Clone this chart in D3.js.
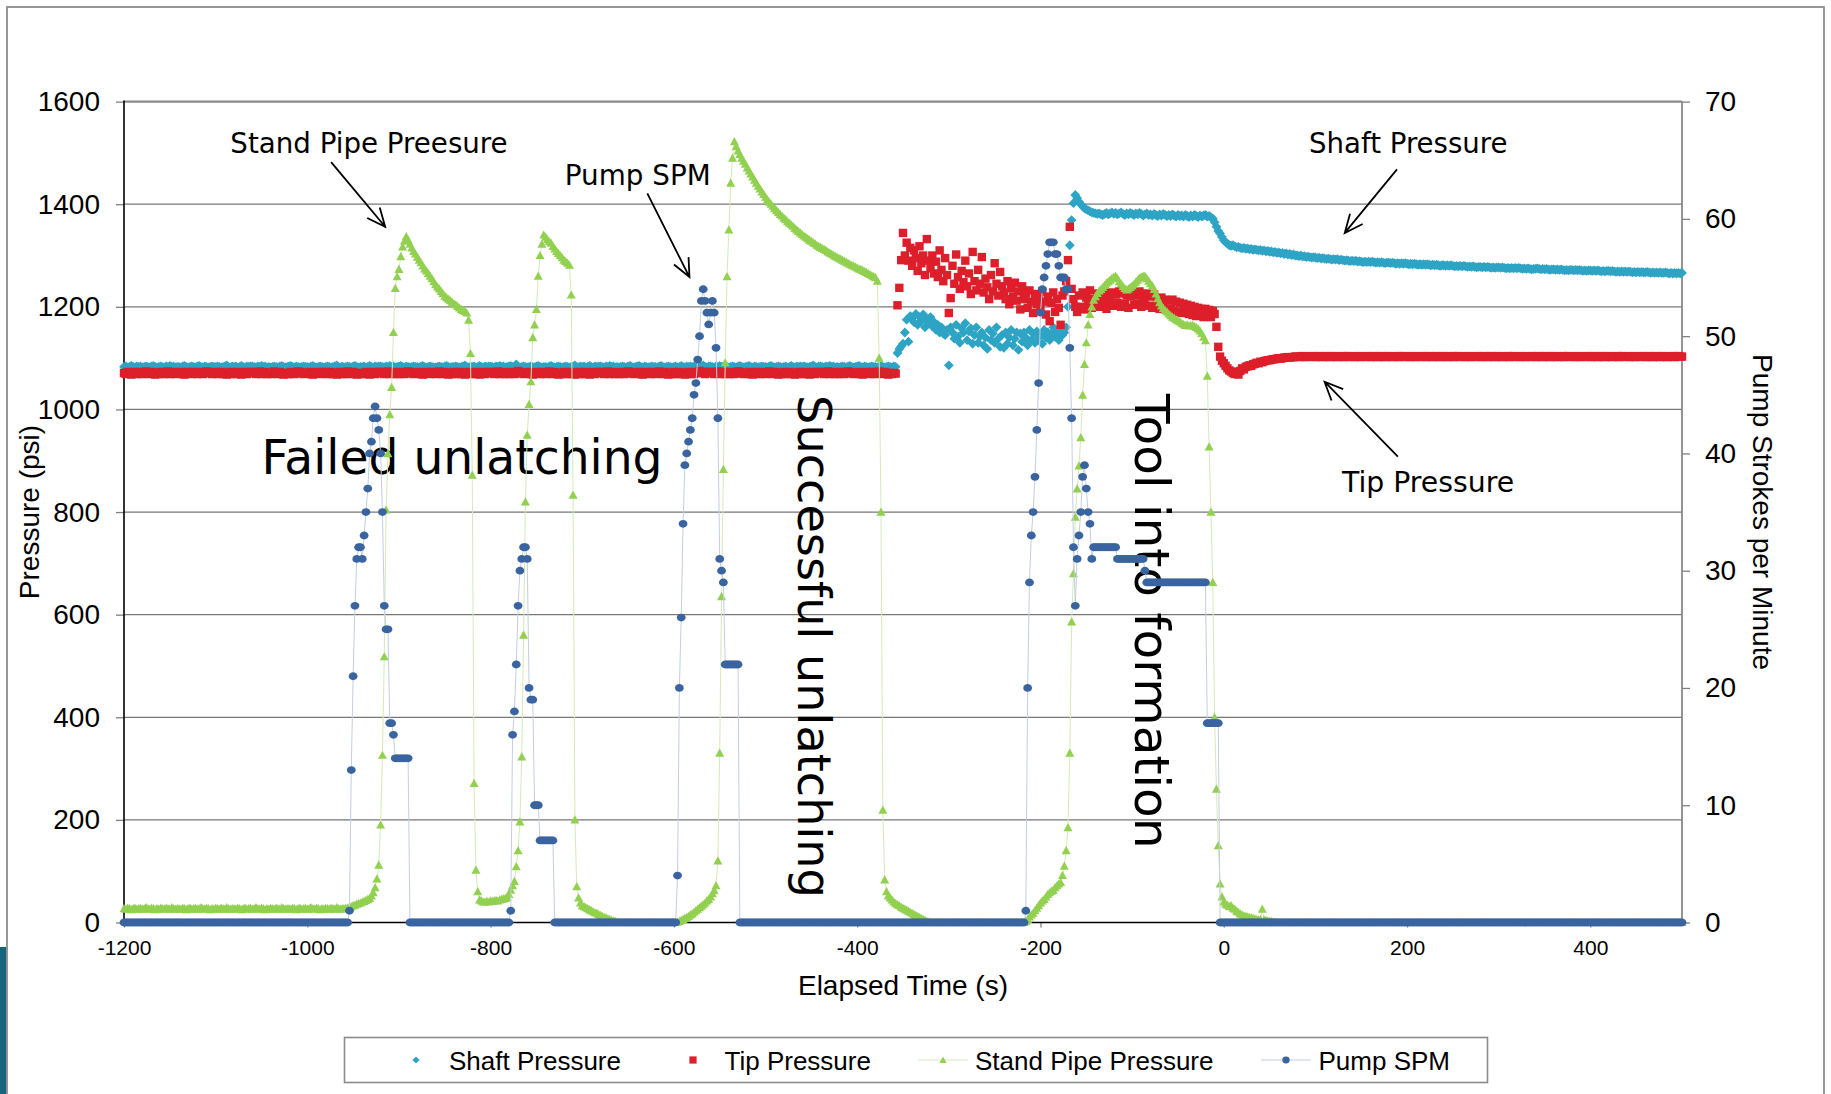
<!DOCTYPE html>
<html>
<head>
<meta charset="utf-8">
<script src="https://cdn.jsdelivr.net/npm/d3@7"></script>
<style>
    body { margin: 0; background: #fff; }
    svg { display: block; }
</style>
</head>
<body>
<div id="chart"></div>
<script>
// logger samples every 2 s starting at -1200 s, ten samples (20 s) per row
const timeStart = -1200
const timeStep = 2

const shaftPressure = [
    1083, 1084, 1082, 1083, 1085, 1083, 1082, 1084, 1083, 1084, // -1200
    1082, 1083, 1084, 1083, 1082, 1084, 1085, 1083, 1082, 1083, // -1180
    1084, 1083, 1082, 1084, 1083, 1085, 1083, 1084, 1082, 1083, // -1160
    1083, 1082, 1084, 1085, 1083, 1082, 1083, 1084, 1083, 1082, // -1140
    1084, 1085, 1083, 1082, 1084, 1083, 1082, 1083, 1084, 1083, // -1120
    1083, 1084, 1083, 1082, 1083, 1084, 1086, 1083, 1082, 1084, // -1100
    1083, 1084, 1082, 1083, 1085, 1083, 1082, 1084, 1083, 1084, // -1080
    1084, 1083, 1082, 1084, 1083, 1085, 1083, 1084, 1082, 1083, // -1060
    1082, 1083, 1084, 1083, 1082, 1084, 1085, 1083, 1082, 1083, // -1040
    1084, 1085, 1083, 1082, 1084, 1083, 1082, 1083, 1084, 1083, // -1020
    1083, 1082, 1084, 1085, 1083, 1082, 1083, 1084, 1083, 1082, // -1000
    1083, 1084, 1083, 1082, 1083, 1084, 1086, 1083, 1082, 1084, // -980
    1082, 1083, 1084, 1083, 1082, 1084, 1085, 1083, 1082, 1083, // -960
    1083, 1084, 1082, 1083, 1085, 1083, 1082, 1084, 1083, 1084, // -940
    1084, 1083, 1082, 1084, 1083, 1085, 1083, 1084, 1082, 1083, // -920
    1084, 1085, 1083, 1082, 1084, 1083, 1082, 1083, 1084, 1083, // -900
    1083, 1082, 1084, 1085, 1083, 1082, 1083, 1084, 1083, 1082, // -880
    1082, 1083, 1084, 1083, 1082, 1084, 1085, 1083, 1082, 1083, // -860
    1083, 1084, 1083, 1082, 1083, 1084, 1086, 1083, 1082, 1084, // -840
    1083, 1084, 1082, 1083, 1085, 1083, 1082, 1084, 1083, 1084, // -820
    1084, 1083, 1082, 1084, 1083, 1085, 1083, 1084, 1082, 1083, // -800
    1084, 1085, 1083, 1082, 1088, 1083, 1082, 1083, 1084, 1083, // -780
    1082, 1083, 1084, 1083, 1082, 1084, 1085, 1083, 1082, 1083, // -760
    1083, 1082, 1084, 1085, 1083, 1082, 1083, 1084, 1083, 1082, // -740
    1083, 1084, 1083, 1082, 1083, 1084, 1086, 1083, 1082, 1084, // -720
    1083, 1084, 1082, 1083, 1085, 1083, 1082, 1084, 1083, 1084, // -700
    1084, 1083, 1082, 1084, 1083, 1085, 1083, 1084, 1082, 1083, // -680
    1082, 1083, 1084, 1083, 1082, 1084, 1085, 1083, 1082, 1083, // -660
    1084, 1085, 1083, 1082, 1084, 1083, 1082, 1083, 1084, 1083, // -640
    1083, 1082, 1084, 1085, 1083, 1082, 1083, 1084, 1083, 1082, // -620
    1083, 1084, 1082, 1083, 1085, 1083, 1082, 1084, 1083, 1084, // -600
    1083, 1084, 1083, 1082, 1087, 1084, 1086, 1083, 1082, 1084, // -580
    1084, 1083, 1082, 1084, 1083, 1085, 1083, 1084, 1082, 1083, // -560
    1082, 1083, 1084, 1083, 1082, 1084, 1085, 1083, 1082, 1083, // -540
    1084, 1085, 1083, 1082, 1084, 1083, 1082, 1083, 1084, 1083, // -520
    1083, 1082, 1084, 1085, 1083, 1082, 1083, 1084, 1083, 1082, // -500
    1083, 1084, 1082, 1083, 1085, 1083, 1082, 1084, 1083, 1084, // -480
    1083, 1084, 1083, 1082, 1083, 1084, 1086, 1083, 1082, 1084, // -460
    1084, 1083, 1082, 1084, 1083, 1085, 1083, 1084, 1082, 1083, // -440
    1082, 1083, 1084, 1083, 1082, 1084, 1085, 1083, 1082, 1083, // -420
    1084, 1085, 1083, 1082, 1084, 1083, 1082, 1083, 1084, 1083, // -400
    1083, 1082, 1084, 1085, 1083, 1082, 1083, 1084, 1083, 1082, // -380
    1084, 1083, 1110, 1118, 1123, 1128, 1150, 1175, 1132, 1182, // -360
    1178, 1170, 1186, 1165, 1180, 1172, 1185, 1160, 1175, 1168, // -340
    1180, 1162, 1170, 1155, 1165, 1150, 1160, 1148, 1145, 1155, // -320
    1086, 1160, 1150, 1138, 1165, 1142, 1130, 1158, 1150, 1168, // -300
    1135, 1152, 1158, 1128, 1145, 1160, 1130, 1142, 1150, 1125, // -280
    1140, 1118, 1155, 1135, 1148, 1130, 1160, 1138, 1122, 1145, // -260
    1120, 1150, 1128, 1140, 1155, 1125, 1138, 1150, 1116, 1148, // -240
    1132, 1150, 1140, 1125, 1155, 1135, 1148, 1130, 1152, 1140, // -220
    1145, 1128, 1155, 1140, 1150, 1135, 1148, 1160, 1142, 1150, // -200
    1135, 1155, 1145, 1150, 1160, 1200, 1320, 1369, 1402, 1418, // -180
    1412, 1405, 1400, 1396, 1392, 1390, 1388, 1386, 1384, 1383, // -160
    1382, 1381, 1382, 1380, 1379, 1381, 1383, 1380, 1382, 1384, // -140
    1381, 1383, 1380, 1382, 1384, 1381, 1379, 1382, 1380, 1383, // -120
    1381, 1379, 1382, 1380, 1383, 1381, 1378, 1380, 1382, 1379, // -100
    1380, 1378, 1381, 1379, 1377, 1380, 1378, 1381, 1379, 1377, // -80
    1379, 1377, 1380, 1378, 1376, 1379, 1377, 1378, 1376, 1379, // -60
    1377, 1375, 1378, 1376, 1379, 1377, 1375, 1378, 1376, 1378, // -40
    1379, 1376, 1377, 1375, 1372, 1365, 1356, 1348, 1343, 1336, // -20
    1330, 1326, 1323, 1320, 1319, 1320, 1318, 1316, 1317, 1315, // 0
    1314, 1315, 1313, 1314, 1312, 1313, 1311, 1312, 1311, 1310, // 20
    1311, 1309, 1310, 1308, 1309, 1307, 1308, 1306, 1307, 1305, // 40
    1306, 1304, 1305, 1303, 1304, 1302, 1303, 1301, 1302, 1300, // 60
    1300, 1299, 1300, 1298, 1299, 1297, 1298, 1297, 1296, 1297, // 80
    1296, 1295, 1296, 1294, 1295, 1294, 1293, 1294, 1293, 1292, // 100
    1293, 1292, 1293, 1291, 1292, 1291, 1290, 1291, 1290, 1289, // 120
    1290, 1289, 1290, 1288, 1289, 1288, 1287, 1288, 1287, 1288, // 140
    1287, 1288, 1287, 1286, 1287, 1286, 1287, 1286, 1285, 1286, // 160
    1286, 1285, 1286, 1285, 1284, 1285, 1284, 1285, 1284, 1285, // 180
    1284, 1283, 1284, 1283, 1284, 1283, 1282, 1283, 1282, 1283, // 200
    1282, 1283, 1282, 1281, 1282, 1281, 1282, 1281, 1280, 1281, // 220
    1281, 1280, 1281, 1280, 1281, 1280, 1279, 1280, 1279, 1280, // 240
    1279, 1280, 1279, 1278, 1279, 1278, 1279, 1278, 1277, 1278, // 260
    1278, 1277, 1278, 1277, 1278, 1277, 1276, 1277, 1276, 1277, // 280
    1277, 1276, 1277, 1276, 1275, 1276, 1275, 1276, 1275, 1276, // 300
    1275, 1276, 1275, 1274, 1275, 1274, 1275, 1274, 1273, 1274, // 320
    1274, 1275, 1274, 1273, 1274, 1273, 1274, 1273, 1272, 1273, // 340
    1273, 1272, 1273, 1272, 1273, 1272, 1271, 1272, 1271, 1272, // 360
    1272, 1271, 1272, 1271, 1272, 1271, 1270, 1271, 1270, 1271, // 380
    1271, 1270, 1271, 1270, 1271, 1270, 1269, 1270, 1269, 1270, // 400
    1270, 1269, 1270, 1269, 1268, 1269, 1268, 1269, 1268, 1269, // 420
    1268, 1269, 1268, 1267, 1268, 1267, 1268, 1267, 1268, 1267, // 440
    1267, 1268, 1267, 1266, 1267, 1266, 1267, 1266, 1267, 1266, // 460
    1266, 1267, 1266, 1265, 1266, 1265, 1266, 1265, 1266, 1265, // 480
    1266 // 500
]

const tipPressure = [
    1071, 1069, 1073, 1071, 1068, 1071, 1073, 1069, 1071, 1073, // -1200
    1069, 1071, 1074, 1071, 1069, 1073, 1071, 1068, 1071, 1069, // -1180
    1073, 1071, 1069, 1071, 1074, 1069, 1071, 1073, 1069, 1071, // -1160
    1071, 1073, 1069, 1068, 1071, 1073, 1071, 1069, 1073, 1071, // -1140
    1069, 1073, 1071, 1069, 1071, 1074, 1073, 1071, 1069, 1071, // -1120
    1073, 1069, 1071, 1073, 1069, 1071, 1068, 1071, 1073, 1069, // -1100
    1071, 1069, 1073, 1071, 1068, 1071, 1073, 1069, 1071, 1073, // -1080
    1073, 1071, 1069, 1071, 1074, 1069, 1071, 1073, 1069, 1071, // -1060
    1069, 1071, 1074, 1071, 1069, 1073, 1071, 1068, 1071, 1069, // -1040
    1069, 1073, 1071, 1069, 1071, 1074, 1073, 1071, 1069, 1071, // -1020
    1071, 1073, 1069, 1068, 1071, 1073, 1071, 1069, 1073, 1071, // -1000
    1073, 1069, 1071, 1073, 1069, 1071, 1068, 1071, 1073, 1069, // -980
    1069, 1071, 1074, 1071, 1069, 1073, 1071, 1068, 1071, 1069, // -960
    1071, 1069, 1073, 1071, 1068, 1071, 1073, 1069, 1071, 1073, // -940
    1073, 1071, 1069, 1071, 1074, 1069, 1071, 1073, 1069, 1071, // -920
    1069, 1073, 1071, 1069, 1071, 1074, 1073, 1071, 1069, 1071, // -900
    1071, 1073, 1069, 1068, 1071, 1073, 1071, 1069, 1073, 1071, // -880
    1069, 1071, 1074, 1071, 1069, 1073, 1071, 1068, 1071, 1069, // -860
    1073, 1069, 1071, 1073, 1069, 1071, 1068, 1071, 1073, 1069, // -840
    1071, 1069, 1073, 1071, 1068, 1071, 1073, 1069, 1071, 1073, // -820
    1073, 1071, 1069, 1071, 1074, 1069, 1071, 1073, 1069, 1071, // -800
    1069, 1073, 1071, 1069, 1071, 1075, 1073, 1071, 1069, 1071, // -780
    1071, 1073, 1069, 1068, 1071, 1073, 1071, 1069, 1073, 1071, // -760
    1069, 1071, 1074, 1071, 1069, 1073, 1071, 1068, 1071, 1069, // -740
    1073, 1069, 1071, 1073, 1069, 1071, 1068, 1071, 1073, 1069, // -720
    1071, 1069, 1073, 1071, 1068, 1071, 1073, 1069, 1071, 1073, // -700
    1073, 1071, 1069, 1071, 1074, 1069, 1071, 1073, 1069, 1071, // -680
    1069, 1073, 1071, 1069, 1071, 1074, 1073, 1071, 1069, 1071, // -660
    1071, 1073, 1069, 1068, 1071, 1073, 1071, 1069, 1073, 1071, // -640
    1069, 1071, 1074, 1071, 1069, 1073, 1071, 1068, 1071, 1069, // -620
    1073, 1069, 1071, 1073, 1069, 1071, 1068, 1071, 1073, 1069, // -600
    1071, 1069, 1073, 1071, 1075, 1071, 1073, 1069, 1071, 1073, // -580
    1073, 1071, 1069, 1071, 1074, 1069, 1071, 1073, 1069, 1071, // -560
    1069, 1073, 1071, 1069, 1071, 1074, 1073, 1071, 1069, 1071, // -540
    1071, 1073, 1069, 1068, 1071, 1073, 1071, 1069, 1073, 1071, // -520
    1069, 1071, 1074, 1071, 1069, 1073, 1071, 1068, 1071, 1069, // -500
    1073, 1069, 1071, 1073, 1069, 1071, 1068, 1071, 1073, 1069, // -480
    1071, 1069, 1073, 1071, 1068, 1071, 1073, 1069, 1071, 1073, // -460
    1073, 1071, 1069, 1071, 1074, 1069, 1071, 1073, 1069, 1071, // -440
    1069, 1073, 1071, 1069, 1071, 1074, 1073, 1071, 1069, 1071, // -420
    1071, 1073, 1069, 1068, 1071, 1073, 1071, 1069, 1073, 1071, // -400
    1069, 1071, 1074, 1071, 1069, 1073, 1071, 1068, 1071, 1069, // -380
    1071, 1070, 1203, 1237, 1291, 1344, 1300, 1325, 1290, 1315, // -360
    1280, 1310, 1295, 1270, 1318, 1285, 1300, 1262, 1332, 1290, // -340
    1275, 1300, 1265, 1288, 1258, 1310, 1272, 1250, 1295, 1262, // -320
    1188, 1217, 1280, 1245, 1302, 1258, 1235, 1270, 1248, 1290, // -300
    1240, 1265, 1225, 1307, 1250, 1232, 1272, 1245, 1297, 1228, // -280
    1255, 1238, 1215, 1262, 1230, 1285, 1245, 1222, 1268, 1240, // -260
    1228, 1215, 1250, 1205, 1236, 1220, 1247, 1212, 1230, 1195, // -240
    1240, 1215, 1226, 1198, 1232, 1210, 1188, 1225, 1205, 1218, // -220
    1195, 1230, 1210, 1185, 1220, 1172, 1208, 1228, 1190, 1215, // -200
    1198, 1165, 1222, 1230, 1250, 1291, 1356, 1235, 1215, 1200, // -180
    1190, 1222, 1200, 1228, 1195, 1218, 1203, 1232, 1198, 1215, // -160
    1205, 1226, 1200, 1220, 1208, 1230, 1196, 1222, 1210, 1228, // -140
    1202, 1224, 1208, 1230, 1200, 1226, 1206, 1222, 1198, 1220, // -120
    1228, 1204, 1222, 1206, 1230, 1200, 1218, 1204, 1226, 1202, // -100
    1220, 1198, 1224, 1202, 1216, 1196, 1218, 1200, 1214, 1194, // -80
    1212, 1196, 1214, 1192, 1210, 1190, 1208, 1188, 1206, 1190, // -60
    1204, 1186, 1202, 1184, 1200, 1182, 1198, 1184, 1196, 1180, // -40
    1196, 1182, 1194, 1180, 1192, 1186, 1161, 1122, 1103, 1095, // -20
    1090, 1085, 1080, 1076, 1074, 1071, 1069, 1073, 1068, 1075, // 0
    1080, 1078, 1083, 1084, 1086, 1085, 1088, 1089, 1091, 1090, // 20
    1093, 1092, 1094, 1095, 1096, 1096, 1097, 1098, 1098, 1099, // 40
    1100, 1099, 1100, 1101, 1101, 1102, 1101, 1102, 1102, 1103, // 60
    1103, 1102, 1103, 1104, 1103, 1102, 1103, 1103, 1104, 1103, // 80
    1102, 1103, 1104, 1103, 1102, 1103, 1104, 1103, 1102, 1103, // 100
    1104, 1103, 1102, 1103, 1103, 1104, 1102, 1103, 1104, 1103, // 120
    1103, 1102, 1103, 1104, 1103, 1102, 1103, 1103, 1104, 1103, // 140
    1102, 1103, 1104, 1103, 1102, 1103, 1104, 1103, 1102, 1103, // 160
    1104, 1103, 1102, 1103, 1103, 1104, 1102, 1103, 1104, 1103, // 180
    1103, 1102, 1103, 1104, 1103, 1102, 1103, 1103, 1104, 1103, // 200
    1102, 1103, 1104, 1103, 1102, 1103, 1104, 1103, 1102, 1103, // 220
    1104, 1103, 1102, 1103, 1103, 1104, 1102, 1103, 1104, 1103, // 240
    1103, 1102, 1103, 1104, 1103, 1102, 1103, 1103, 1104, 1103, // 260
    1102, 1103, 1104, 1103, 1102, 1103, 1104, 1103, 1102, 1103, // 280
    1104, 1103, 1102, 1103, 1103, 1104, 1102, 1103, 1104, 1103, // 300
    1103, 1102, 1103, 1104, 1103, 1102, 1103, 1103, 1104, 1103, // 320
    1102, 1103, 1104, 1103, 1102, 1103, 1104, 1103, 1102, 1103, // 340
    1104, 1103, 1102, 1103, 1103, 1104, 1102, 1103, 1104, 1103, // 360
    1103, 1102, 1103, 1104, 1103, 1102, 1103, 1103, 1104, 1103, // 380
    1102, 1103, 1104, 1103, 1102, 1103, 1104, 1103, 1102, 1103, // 400
    1104, 1103, 1102, 1103, 1103, 1104, 1102, 1103, 1104, 1103, // 420
    1103, 1102, 1103, 1104, 1103, 1102, 1103, 1103, 1104, 1103, // 440
    1102, 1103, 1104, 1103, 1102, 1103, 1104, 1103, 1102, 1103, // 460
    1104, 1103, 1102, 1103, 1103, 1104, 1102, 1103, 1104, 1103, // 480
    1103 // 500
]

const standPipePressure = [
    27, 26, 28, 27, 25, 27, 28, 26, 27, 28, // -1200
    26, 27, 29, 27, 26, 28, 27, 25, 27, 26, // -1180
    28, 27, 26, 28, 27, 26, 29, 27, 26, 27, // -1160
    27, 26, 28, 27, 25, 27, 28, 26, 27, 28, // -1140
    26, 27, 29, 27, 26, 28, 27, 25, 27, 26, // -1120
    28, 27, 26, 28, 27, 26, 29, 27, 26, 27, // -1100
    27, 26, 28, 27, 25, 27, 28, 26, 27, 28, // -1080
    26, 27, 29, 27, 26, 28, 27, 25, 27, 26, // -1060
    28, 27, 26, 28, 27, 26, 29, 27, 26, 27, // -1040
    27, 26, 28, 27, 25, 27, 28, 26, 27, 28, // -1020
    26, 27, 29, 27, 26, 28, 27, 25, 27, 26, // -1000
    28, 27, 26, 28, 27, 26, 29, 27, 26, 27, // -980
    27, 28, 28, 30, 31, 33, 34, 36, 37, 38, // -960
    40, 41, 43, 45, 47, 52, 58, 68, 85, 112, // -940
    190, 326, 518, 804, 914, 990, 1043, 1150, 1236, 1259, // -920
    1273, 1298, 1317, 1328, 1337, 1330, 1322, 1315, 1308, 1303, // -900
    1297, 1291, 1286, 1280, 1274, 1270, 1265, 1260, 1255, 1249, // -880
    1243, 1239, 1235, 1230, 1226, 1221, 1218, 1215, 1212, 1209, // -860
    1206, 1204, 1201, 1198, 1195, 1193, 1191, 1188, 1174, 1109, // -840
    872, 271, 102, 60, 44, 42, 40, 40, 41, 40, // -820
    42, 41, 42, 43, 42, 44, 45, 46, 47, 49, // -800
    55, 63, 72, 80, 109, 140, 196, 323, 560, 820, // -780
    950, 1010, 1054, 1140, 1165, 1195, 1260, 1300, 1322, 1340, // -760
    1336, 1331, 1327, 1324, 1318, 1313, 1308, 1304, 1300, 1296, // -740
    1291, 1288, 1285, 1281, 1223, 833, 200, 70, 48, 38, // -720
    33, 31, 29, 27, 25, 23, 21, 19, 18, 16, // -700
    14, 12, 10, 9, 7, 6, 4, 3, 2, 1, // -680
    0, 0, 0, 0, 0, 0, 0, 0, 0, 0, // -660
    0, 0, 0, 0, 0, 0, 0, 0, 0, 0, // -640
    0, 0, 0, 0, 0, 0, 0, 0, 0, 0, // -620
    0, 0, 1, 2, 4, 6, 8, 10, 12, 15, // -600
    17, 20, 23, 26, 29, 32, 35, 38, 42, 45, // -580
    50, 56, 62, 72, 120, 330, 635, 883, 1091, 1259, // -560
    1350, 1441, 1490, 1522, 1512, 1504, 1497, 1490, 1484, 1478, // -540
    1471, 1465, 1459, 1453, 1447, 1441, 1435, 1430, 1424, 1419, // -520
    1414, 1409, 1404, 1400, 1396, 1392, 1388, 1384, 1380, 1377, // -500
    1373, 1370, 1366, 1363, 1360, 1357, 1353, 1350, 1347, 1344, // -480
    1341, 1338, 1336, 1333, 1330, 1328, 1325, 1323, 1320, 1318, // -460
    1316, 1314, 1312, 1310, 1307, 1305, 1303, 1301, 1299, 1297, // -440
    1295, 1293, 1291, 1289, 1287, 1285, 1283, 1281, 1280, 1278, // -420
    1276, 1274, 1273, 1271, 1269, 1267, 1265, 1263, 1261, 1259, // -400
    1257, 1250, 1100, 800, 219, 83, 60, 52, 48, 44, // -380
    40, 37, 35, 33, 30, 28, 26, 24, 22, 20, // -360
    18, 16, 14, 12, 10, 8, 6, 4, 2, 1, // -340
    0, 0, 0, 0, 0, 0, 0, 0, 0, 0, // -320
    0, 0, 0, 0, 0, 0, 0, 0, 0, 0, // -300
    0, 0, 0, 0, 0, 0, 0, 0, 0, 0, // -280
    0, 0, 0, 0, 0, 0, 0, 0, 0, 0, // -260
    0, 0, 0, 0, 0, 0, 0, 0, 0, 0, // -240
    0, 0, 2, 6, 11, 15, 18, 23, 28, 33, // -220
    38, 42, 45, 50, 55, 58, 61, 63, 68, 72, // -200
    75, 78, 92, 110, 140, 185, 330, 586, 680, 790, // -180
    845, 890, 945, 1028, 1088, 1130, 1165, 1185, 1200, 1213, // -160
    1220, 1226, 1231, 1234, 1238, 1242, 1246, 1249, 1252, 1256, // -140
    1258, 1260, 1255, 1249, 1245, 1240, 1236, 1233, 1235, 1238, // -120
    1241, 1244, 1248, 1252, 1256, 1258, 1260, 1260, 1255, 1250, // -100
    1245, 1241, 1234, 1225, 1216, 1208, 1202, 1197, 1193, 1190, // -80
    1186, 1183, 1180, 1178, 1175, 1173, 1171, 1168, 1166, 1164, // -60
    1165, 1163, 1164, 1164, 1162, 1160, 1157, 1153, 1148, 1141, // -40
    1134, 1065, 927, 800, 663, 400, 260, 150, 75, 50, // -20
    40, 36, 34, 31, 33, 28, 26, 22, 20, 17, // 0
    15, 13, 12, 11, 10, 9, 8, 7, 6, 5, // 20
    6, 26, 5, 4, 3, 2, 2, 1, 1, 0, // 40
    0, 0, 0, 0, 0, 0, 0, 0, 0, 0, // 60
    0, 0, 0, 0, 0, 0, 0, 0, 0, 0, // 80
    0, 0, 0, 0, 0, 0, 0, 0, 0, 0, // 100
    0, 0, 0, 0, 0, 0, 0, 0, 0, 0, // 120
    0, 0, 0, 0, 0, 0, 0, 0, 0, 0, // 140
    0, 0, 0, 0, 0, 0, 0, 0, 0, 0, // 160
    0, 0, 0, 0, 0, 0, 0, 0, 0, 0, // 180
    0, 0, 0, 0, 0, 0, 0, 0, 0, 0, // 200
    0, 0, 0, 0, 0, 0, 0, 0, 0, 0, // 220
    0, 0, 0, 0, 0, 0, 0, 0, 0, 0, // 240
    0, 0, 0, 0, 0, 0, 0, 0, 0, 0, // 260
    0, 0, 0, 0, 0, 0, 0, 0, 0, 0, // 280
    0, 0, 0, 0, 0, 0, 0, 0, 0, 0, // 300
    0, 0, 0, 0, 0, 0, 0, 0, 0, 0, // 320
    0, 0, 0, 0, 0, 0, 0, 0, 0, 0, // 340
    0, 0, 0, 0, 0, 0, 0, 0, 0, 0, // 360
    0, 0, 0, 0, 0, 0, 0, 0, 0, 0, // 380
    0, 0, 0, 0, 0, 0, 0, 0, 0, 0, // 400
    0, 0, 0, 0, 0, 0, 0, 0, 0, 0, // 420
    0, 0, 0, 0, 0, 0, 0, 0, 0, 0, // 440
    0, 0, 0, 0, 0, 0, 0, 0, 0, 0, // 460
    0, 0, 0, 0, 0, 0, 0, 0, 0, 0, // 480
    0 // 500
]

const pumpSpm = [
    0, 0, 0, 0, 0, 0, 0, 0, 0, 0, // -1200
    0, 0, 0, 0, 0, 0, 0, 0, 0, 0, // -1180
    0, 0, 0, 0, 0, 0, 0, 0, 0, 0, // -1160
    0, 0, 0, 0, 0, 0, 0, 0, 0, 0, // -1140
    0, 0, 0, 0, 0, 0, 0, 0, 0, 0, // -1120
    0, 0, 0, 0, 0, 0, 0, 0, 0, 0, // -1100
    0, 0, 0, 0, 0, 0, 0, 0, 0, 0, // -1080
    0, 0, 0, 0, 0, 0, 0, 0, 0, 0, // -1060
    0, 0, 0, 0, 0, 0, 0, 0, 0, 0, // -1040
    0, 0, 0, 0, 0, 0, 0, 0, 0, 0, // -1020
    0, 0, 0, 0, 0, 0, 0, 0, 0, 0, // -1000
    0, 0, 0, 0, 0, 0, 0, 0, 0, 0, // -980
    0, 0, 0, 1, 13, 21, 27, 31, 32, 32, // -960
    31, 33, 35, 37, 40, 41, 43, 44, 43, 42, // -940
    40, 35, 27, 25, 25, 17, 17, 16, 14, 14, // -920
    14, 14, 14, 14, 14, 14, 0, 0, 0, 0, // -900
    0, 0, 0, 0, 0, 0, 0, 0, 0, 0, // -880
    0, 0, 0, 0, 0, 0, 0, 0, 0, 0, // -860
    0, 0, 0, 0, 0, 0, 0, 0, 0, 0, // -840
    0, 0, 0, 0, 0, 0, 0, 0, 0, 0, // -820
    0, 0, 0, 0, 0, 0, 0, 0, 0, 0, // -800
    0, 1, 16, 18, 22, 27, 30, 31, 32, 32, // -780
    31, 20, 19, 19, 10, 10, 10, 7, 7, 7, // -760
    7, 7, 7, 7, 7, 0, 0, 0, 0, 0, // -740
    0, 0, 0, 0, 0, 0, 0, 0, 0, 0, // -720
    0, 0, 0, 0, 0, 0, 0, 0, 0, 0, // -700
    0, 0, 0, 0, 0, 0, 0, 0, 0, 0, // -680
    0, 0, 0, 0, 0, 0, 0, 0, 0, 0, // -660
    0, 0, 0, 0, 0, 0, 0, 0, 0, 0, // -640
    0, 0, 0, 0, 0, 0, 0, 0, 0, 0, // -620
    0, 0, 4, 20, 26, 34, 39, 40, 41, 42, // -600
    43, 45, 46, 48, 50, 53, 54, 53, 52, 51, // -580
    52, 53, 52, 49, 43, 31, 30, 29, 22, 22, // -560
    22, 22, 22, 22, 22, 22, 0, 0, 0, 0, // -540
    0, 0, 0, 0, 0, 0, 0, 0, 0, 0, // -520
    0, 0, 0, 0, 0, 0, 0, 0, 0, 0, // -500
    0, 0, 0, 0, 0, 0, 0, 0, 0, 0, // -480
    0, 0, 0, 0, 0, 0, 0, 0, 0, 0, // -460
    0, 0, 0, 0, 0, 0, 0, 0, 0, 0, // -440
    0, 0, 0, 0, 0, 0, 0, 0, 0, 0, // -420
    0, 0, 0, 0, 0, 0, 0, 0, 0, 0, // -400
    0, 0, 0, 0, 0, 0, 0, 0, 0, 0, // -380
    0, 0, 0, 0, 0, 0, 0, 0, 0, 0, // -360
    0, 0, 0, 0, 0, 0, 0, 0, 0, 0, // -340
    0, 0, 0, 0, 0, 0, 0, 0, 0, 0, // -320
    0, 0, 0, 0, 0, 0, 0, 0, 0, 0, // -300
    0, 0, 0, 0, 0, 0, 0, 0, 0, 0, // -280
    0, 0, 0, 0, 0, 0, 0, 0, 0, 0, // -260
    0, 0, 0, 0, 0, 0, 0, 0, 0, 0, // -240
    0, 0, 1, 20, 29, 33, 35, 38, 42, 46, // -220
    52, 54, 55, 56, 57, 58, 58, 58, 57, 57, // -200
    56, 55, 55, 55, 54, 54, 49, 43, 32, 27, // -180
    31, 33, 35, 38, 39, 37, 35, 34, 31, 32, // -160
    32, 32, 32, 32, 32, 32, 32, 32, 32, 32, // -140
    32, 32, 31, 31, 31, 31, 31, 31, 31, 31, // -120
    31, 31, 31, 31, 31, 31, 31, 30, 29, 29, // -100
    29, 29, 29, 29, 29, 29, 29, 29, 29, 29, // -80
    29, 29, 29, 29, 29, 29, 29, 29, 29, 29, // -60
    29, 29, 29, 29, 29, 29, 29, 29, 29, 29, // -40
    29, 17, 17, 17, 17, 17, 17, 17, 0, 0, // -20
    0, 0, 0, 0, 0, 0, 0, 0, 0, 0, // 0
    0, 0, 0, 0, 0, 0, 0, 0, 0, 0, // 20
    0, 0, 0, 0, 0, 0, 0, 0, 0, 0, // 40
    0, 0, 0, 0, 0, 0, 0, 0, 0, 0, // 60
    0, 0, 0, 0, 0, 0, 0, 0, 0, 0, // 80
    0, 0, 0, 0, 0, 0, 0, 0, 0, 0, // 100
    0, 0, 0, 0, 0, 0, 0, 0, 0, 0, // 120
    0, 0, 0, 0, 0, 0, 0, 0, 0, 0, // 140
    0, 0, 0, 0, 0, 0, 0, 0, 0, 0, // 160
    0, 0, 0, 0, 0, 0, 0, 0, 0, 0, // 180
    0, 0, 0, 0, 0, 0, 0, 0, 0, 0, // 200
    0, 0, 0, 0, 0, 0, 0, 0, 0, 0, // 220
    0, 0, 0, 0, 0, 0, 0, 0, 0, 0, // 240
    0, 0, 0, 0, 0, 0, 0, 0, 0, 0, // 260
    0, 0, 0, 0, 0, 0, 0, 0, 0, 0, // 280
    0, 0, 0, 0, 0, 0, 0, 0, 0, 0, // 300
    0, 0, 0, 0, 0, 0, 0, 0, 0, 0, // 320
    0, 0, 0, 0, 0, 0, 0, 0, 0, 0, // 340
    0, 0, 0, 0, 0, 0, 0, 0, 0, 0, // 360
    0, 0, 0, 0, 0, 0, 0, 0, 0, 0, // 380
    0, 0, 0, 0, 0, 0, 0, 0, 0, 0, // 400
    0, 0, 0, 0, 0, 0, 0, 0, 0, 0, // 420
    0, 0, 0, 0, 0, 0, 0, 0, 0, 0, // 440
    0, 0, 0, 0, 0, 0, 0, 0, 0, 0, // 460
    0, 0, 0, 0, 0, 0, 0, 0, 0, 0, // 480
    0 // 500
]

const timeTicks = [-1200, -1000, -800, -600, -400, -200, 0, 200, 400]
const pressureTicks = [0, 200, 400, 600, 800, 1000, 1200, 1400, 1600]
const spmTicks = [0, 10, 20, 30, 40, 50, 60, 70]
const seriesNames = ["Shaft Pressure", "Tip Pressure", "Stand Pipe Pressure", "Pump SPM"]

// callouts, placed in data units (time s, psi)
const labels = [
    {text: "Stand Pipe Preesure", t: -1084, p: 1500, size: 27.7, rotate: 0},
    {text: "Pump SPM", t: -719, p: 1438, size: 27.8, rotate: 0},
    {text: "Shaft Pressure", t: 93, p: 1500, size: 27.6, rotate: 0},
    {text: "Tip Pressure", t: 129, p: 840, size: 28.3, rotate: 0},
    {text: "Failed unlatching", t: -1050, p: 875, size: 47.2, rotate: 0},
    {text: "Successful unlatching", t: -465, p: 1028, size: 46.2, rotate: 90},
    {text: "Tool into formation", t: -97, p: 1030, size: 48.6, rotate: 90},
]
const arrows = [
    {from: [-974, 1482], to: [-915, 1356]},
    {from: [-629, 1421], to: [-583, 1258]},
    {from: [189, 1468], to: [132, 1344]},
    {from: [190, 908], to: [110, 1054]},
]

const colors = {
    shaft: "#2ea4c5",
    tip: "#dc1f2a",
    standPipe: "#92d050",
    spm: "#3a64a0",
}

const width = 1831
const height = 1094
const plotLeft = 124
const plotRight = 1682
const plotTop = 101.6
const plotBottom = 922.5

const axisFont = "'Liberation Sans', Arial, sans-serif"
const noteFont = "'DejaVu Sans', Verdana, sans-serif"

const x = d3.scaleLinear().domain([-1200, 500]).range([plotLeft, plotRight])
const y = d3.scaleLinear().domain([0, 1600]).range([plotBottom, plotTop])
const y2 = d3.scaleLinear().domain([0, 70]).range([plotBottom, plotTop])

const svg = d3
    .select("#chart")
    .append("svg")
    .attr("width", width)
    .attr("height", height)
    .attr("viewBox", [0, 0, width, height])

svg.append("rect").attr("width", width).attr("height", height).attr("fill", "#fff")

// slide frame and the teal strip at the bottom left
svg.append("rect")
    .attr("x", 0)
    .attr("y", 947)
    .attr("width", 6.5)
    .attr("height", height - 947)
    .attr("fill", "#16657f")
svg.append("rect")
    .attr("x", 7)
    .attr("y", 7)
    .attr("width", 1817)
    .attr("height", 1200)
    .attr("fill", "none")
    .attr("stroke", "#8c8c8c")
    .attr("stroke-width", 1.8)

// gridlines
svg.append("g")
    .selectAll("line")
    .data(pressureTicks.filter((d) => d > 0 && d < 1600))
    .join("line")
    .attr("x1", plotLeft)
    .attr("x2", plotRight)
    .attr("y1", (d) => y(d))
    .attr("y2", (d) => y(d))
    .attr("stroke", "#777")
    .attr("stroke-width", 1.2)

// plot area border: top and right grey, left and bottom black
svg.append("line")
    .attr("x1", plotLeft).attr("x2", plotRight).attr("y1", plotTop).attr("y2", plotTop)
    .attr("stroke", "#8a8a8a").attr("stroke-width", 2.2)
svg.append("line")
    .attr("x1", plotRight).attr("x2", plotRight).attr("y1", plotTop).attr("y2", plotBottom)
    .attr("stroke", "#8a8a8a").attr("stroke-width", 1.8)

// axes
const axisLeft = svg.append("g")
    .attr("transform", `translate(${plotLeft},0)`)
    .call(d3.axisLeft(y).tickValues(pressureTicks).tickSize(8).tickPadding(16).tickFormat((d) => String(d)))
const axisRight = svg.append("g")
    .attr("transform", `translate(${plotRight},0)`)
    .call(d3.axisRight(y2).tickValues(spmTicks).tickSize(8).tickPadding(15).tickFormat((d) => String(d)))
const axisBottom = svg.append("g")
    .attr("transform", `translate(0,${plotBottom})`)
    .call(d3.axisBottom(x).tickValues(timeTicks).tickSize(5).tickPadding(13).tickFormat((d) => String(d)))

for (let axis of [axisLeft, axisRight, axisBottom]) {
    axis.select(".domain").remove()
    axis.selectAll(".tick line").attr("stroke", "#808080").attr("stroke-width", 1.3)
    axis.selectAll("text").attr("font-family", axisFont).attr("fill", "#000")
}
axisLeft.selectAll("text").attr("font-size", 28)
axisRight.selectAll("text").attr("font-size", 28)
axisBottom.selectAll("text").attr("font-size", 21)

svg.append("line")
    .attr("x1", plotLeft).attr("x2", plotLeft).attr("y1", plotTop - 1).attr("y2", plotBottom)
    .attr("stroke", "#000").attr("stroke-width", 1.6)

// axis titles
svg.append("text")
    .attr("transform", `translate(39,${(plotTop + plotBottom) / 2}) rotate(-90)`)
    .attr("text-anchor", "middle")
    .attr("font-family", axisFont)
    .attr("font-size", 28)
    .text("Pressure (psi)")
svg.append("text")
    .attr("transform", `translate(1753,${(plotTop + plotBottom) / 2}) rotate(90)`)
    .attr("text-anchor", "middle")
    .attr("font-family", axisFont)
    .attr("font-size", 28)
    .text("Pump Strokes per Minute")
svg.append("text")
    .attr("x", (plotLeft + plotRight) / 2)
    .attr("y", 995)
    .attr("text-anchor", "middle")
    .attr("font-family", axisFont)
    .attr("font-size", 28)
    .text("Elapsed Time (s)")

// callout text and arrows sit under the data
const notes = svg.append("g")
notes.selectAll("text")
    .data(labels)
    .join("text")
    .attr("transform", (d) => `translate(${x(d.t)},${y(d.p)}) rotate(${d.rotate})`)
    .attr("font-family", noteFont)
    .attr("font-size", (d) => d.size)
    .attr("fill", "#000")
    .text((d) => d.text)

let arrowPath = (d) => {
    let [x1, y1] = [x(d.from[0]), y(d.from[1])]
    let [xe, ye] = [x(d.to[0]), y(d.to[1])]
    let a = Math.atan2(ye - y1, xe - x1)
    let len = 20
    let spread = 0.42
    let h1 = [xe - len * Math.cos(a - spread), ye - len * Math.sin(a - spread)]
    let h2 = [xe - len * Math.cos(a + spread), ye - len * Math.sin(a + spread)]
    return `M${x1},${y1}L${xe},${ye}M${h1[0]},${h1[1]}L${xe},${ye}L${h2[0]},${h2[1]}`
}
notes.selectAll("path")
    .data(arrows)
    .join("path")
    .attr("d", arrowPath)
    .attr("fill", "none")
    .attr("stroke", "#000")
    .attr("stroke-width", 1.8)

// series
const marks = svg.append("g")
const px = (i) => x(timeStart + i * timeStep)

const diamond = "M0,-4.9L4.9,0L0,4.9L-4.9,0Z"
const triangle = "M0,-4.6L4.5,3.6L-4.5,3.6Z"

marks.append("g")
    .selectAll("path")
    .data(shaftPressure)
    .join("path")
    .attr("d", diamond)
    .attr("transform", (d, i) => `translate(${px(i)},${y(d)})`)
    .attr("fill", colors.shaft)

marks.append("g")
    .selectAll("rect")
    .data(tipPressure)
    .join("rect")
    .attr("x", (d, i) => px(i) - 4.2)
    .attr("y", (d) => y(d) - 4.2)
    .attr("width", 8.4)
    .attr("height", 8.4)
    .attr("fill", colors.tip)

marks.append("path")
    .datum(standPipePressure)
    .attr("d", d3.line().x((d, i) => px(i)).y((d) => y(d)))
    .attr("fill", "none")
    .attr("stroke", "#d3ebb9")
    .attr("stroke-width", 1)
marks.append("g")
    .selectAll("path")
    .data(standPipePressure)
    .join("path")
    .attr("d", triangle)
    .attr("transform", (d, i) => `translate(${px(i)},${y(d)})`)
    .attr("fill", colors.standPipe)

marks.append("path")
    .datum(pumpSpm)
    .attr("d", d3.line().x((d, i) => px(i)).y((d) => y2(d)))
    .attr("fill", "none")
    .attr("stroke", "#c3cee2")
    .attr("stroke-width", 1)
marks.append("g")
    .selectAll("ellipse")
    .data(pumpSpm)
    .join("ellipse")
    .attr("cx", (d, i) => px(i))
    .attr("cy", (d) => y2(d))
    .attr("rx", 4.4)
    .attr("ry", 3.9)
    .attr("fill", colors.spm)

// bottom axis line
svg.append("line")
    .attr("x1", plotLeft).attr("x2", plotRight).attr("y1", plotBottom).attr("y2", plotBottom)
    .attr("stroke", "#000").attr("stroke-width", 1.4)
marks.raise()

// legend
const legend = svg.append("g")
legend.append("rect")
    .attr("x", 344.5)
    .attr("y", 1037.5)
    .attr("width", 1143)
    .attr("height", 45)
    .attr("fill", "#fff")
    .attr("stroke", "#8c8c8c")
    .attr("stroke-width", 1.6)

const legendItems = [
    {name: seriesNames[0], marker: 416, text: 449, line: false},
    {name: seriesNames[1], marker: 693, text: 724.5, line: false},
    {name: seriesNames[2], marker: 943, text: 975, line: true},
    {name: seriesNames[3], marker: 1286, text: 1318.5, line: true},
]
const legendY = 1060
legendItems.forEach((item, i) => {
    if (item.line) {
        legend.append("line")
            .attr("x1", item.marker - 25)
            .attr("x2", item.marker + 25)
            .attr("y1", legendY)
            .attr("y2", legendY)
            .attr("stroke", i === 2 ? "#d3ebb9" : "#c3cee2")
            .attr("stroke-width", 1.2)
    }
    if (i === 0) {
        legend.append("path").attr("d", "M0,-3.6L3.6,0L0,3.6L-3.6,0Z")
            .attr("transform", `translate(${item.marker},${legendY})`).attr("fill", colors.shaft)
    } else if (i === 1) {
        legend.append("rect").attr("x", item.marker - 3.6).attr("y", legendY - 3.6)
            .attr("width", 7.2).attr("height", 7.2).attr("fill", colors.tip)
    } else if (i === 2) {
        legend.append("path").attr("d", "M0,-3.6L3.6,2.9L-3.6,2.9Z")
            .attr("transform", `translate(${item.marker},${legendY})`).attr("fill", colors.standPipe)
    } else {
        legend.append("ellipse").attr("cx", item.marker).attr("cy", legendY)
            .attr("rx", 3.7).attr("ry", 3.4).attr("fill", colors.spm)
    }
    legend.append("text")
        .attr("x", item.text)
        .attr("y", 1069.5)
        .attr("font-family", axisFont)
        .attr("font-size", 26)
        .text(item.name)
})
</script>
</body>
</html>
